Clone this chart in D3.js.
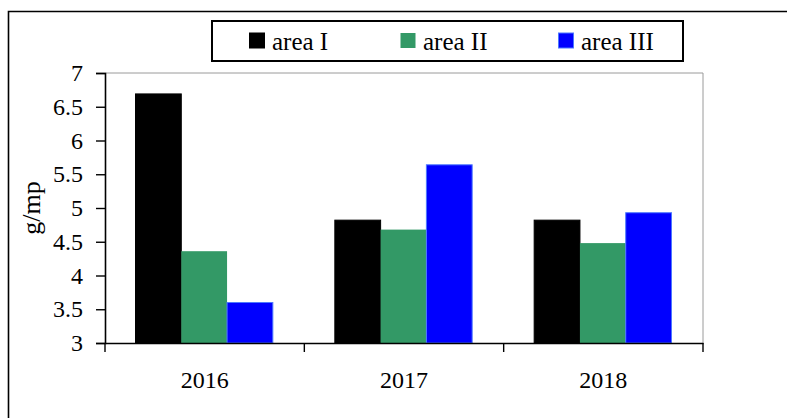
<!DOCTYPE html>
<html>
<head>
    <meta charset="utf-8">
    <title>g/mp by area</title>
    <script src="https://cdn.jsdelivr.net/npm/d3@7"></script>
    <style>
        body {
            margin: 0;
            background: white;
        }
        text {
            font-family: "Liberation Serif", "Times New Roman", serif;
            fill: #000;
        }
    </style>
</head>
<body>
    <div id="chart"></div>
    <script>
        // Data
        const years = ["2016", "2017", "2018"];
        const areas = ["area I", "area II", "area III"];
        const areaI = [6.69, 4.82, 4.82];
        const areaII = [4.36, 4.68, 4.48];
        const areaIII = [3.6, 5.64, 4.93];
        const yTicks = [3, 3.5, 4, 4.5, 5, 5.5, 6, 6.5, 7];

        const colors = ["#000000", "#339966", "#0000ff"];
        const strokes = ["#000000", "none", "#4d79ff"];

        const W = 787, H = 418;
        const margin = {top: 73, right: 84, bottom: 75, left: 105};
        const width = W - margin.left - margin.right;
        const height = H - margin.top - margin.bottom;

        const svg = d3.select("#chart")
            .append("svg")
            .attr("width", W)
            .attr("height", H);

        // outer frame (only left and top edges are in view)
        svg.append("path")
            .attr("d", `M8.5,${H} V11.5 H${W}`)
            .attr("fill", "none")
            .attr("stroke", "#000")
            .attr("stroke-width", 1.6);

        const g = svg.append("g")
            .attr("transform", `translate(${margin.left},${margin.top})`);

        // scales
        const x0 = d3.scaleBand()
            .domain(years)
            .range([0, width])
            .padding(0);

        const x1 = d3.scaleBand()
            .domain(areas)
            .range([30.5, x0.bandwidth() - 31.5])
            .padding(0);

        const y = d3.scaleLinear()
            .domain([3, 7])
            .range([height, 0]);

        // plot area border (grey top & right)
        g.append("path")
            .attr("d", `M0,0 H${width} V${height}`)
            .attr("fill", "none")
            .attr("stroke", "#9a9a9a")
            .attr("stroke-width", 1);

        // bars
        const series = [areaI, areaII, areaIII];
        const rows = [];
        years.forEach((yr, i) => {
            areas.forEach((a, j) => {
                rows.push({year: yr, area: a, k: j, value: series[j][i]});
            });
        });

        g.selectAll(".bar")
            .data(rows)
            .join("rect")
            .attr("class", "bar")
            .attr("x", d => x0(d.year) + x1(d.area))
            .attr("y", d => y(d.value))
            .attr("width", x1.bandwidth())
            .attr("height", d => y(3) - y(d.value))
            .attr("fill", d => colors[d.k])
            .attr("stroke", d => strokes[d.k])
            .attr("stroke-width", 1);

        // y axis
        const yAxis = g.append("g")
            .call(d3.axisLeft(y)
                .tickValues(yTicks)
                .tickFormat(d => d)
                .tickSize(9)
                .tickPadding(13))
            .attr("font-family", "Liberation Serif")
            .attr("font-size", 24);
        yAxis.select(".domain").attr("stroke-width", 1.6);
        yAxis.selectAll(".tick line").attr("stroke-width", 1.4);

        // x axis (ticks between categories)
        const xAxis = g.append("g")
            .attr("transform", `translate(0,${height})`)
            .call(d3.axisBottom(x0).tickSize(0).tickPadding(28))
            .attr("font-family", "Liberation Serif")
            .attr("font-size", 24);
        xAxis.select(".domain").attr("stroke-width", 1.6);

        const bounds = years.map(yr => x0(yr)).concat([width]);
        xAxis.selectAll(".sep")
            .data(bounds)
            .join("line")
            .attr("class", "sep")
            .attr("x1", d => d)
            .attr("x2", d => d)
            .attr("y1", 0)
            .attr("y2", 9)
            .attr("stroke", "#000")
            .attr("stroke-width", 1.4);

        // y label
        svg.append("text")
            .attr("transform", "translate(40,208) rotate(-90)")
            .attr("text-anchor", "middle")
            .style("font-size", "26px")
            .text("g/mp");

        // legend
        const legend = svg.append("g")
            .attr("transform", "translate(212,21)");

        legend.append("rect")
            .attr("x", 0)
            .attr("y", 0)
            .attr("width", 471)
            .attr("height", 40)
            .attr("fill", "white")
            .attr("stroke", "#000")
            .attr("stroke-width", 2);

        const items = legend.selectAll(".item")
            .data(areas)
            .join("g")
            .attr("class", "item")
            .attr("transform", (d, i) => `translate(${[37, 188, 346][i]},0)`);

        items.append("rect")
            .attr("x", 0.5)
            .attr("y", 12)
            .attr("width", 15)
            .attr("height", 15)
            .attr("fill", (d, i) => colors[i])
            .attr("stroke", (d, i) => strokes[i])
            .attr("stroke-width", 1);

        items.append("text")
            .attr("x", 23)
            .attr("y", 29)
            .style("font-size", "25px")
            .text(d => d);
    </script>
</body>
</html>
